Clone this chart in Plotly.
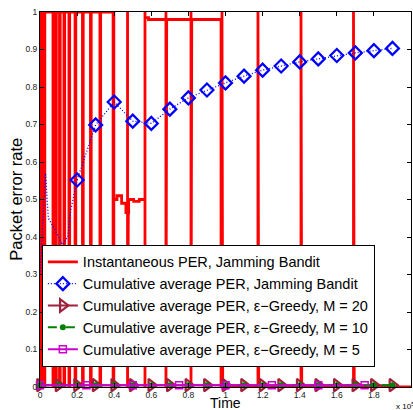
import plotly.graph_objects as go

# ---------------- data ----------------
# Instantaneous PER, Jamming Bandit: piecewise levels + full-height spikes
per_level_time = [0, 39400, 41500, 44000, 46300, 47800, 50500, 53500, 56600, 58500, 97600]
per_level_value = [1.0, 0.5, 0.51, 0.49, 0.465, 0.5, 0.495, 0.5, 0.985, 0.98, 0.0]
per_spike_time = [300, 1100, 2200, 7000, 8400, 10500, 12900, 15600, 18900, 22900,
                  27200, 32300, 39400, 47200, 56600, 67900, 81400, 98100, 117500,
                  140700, 169000]
per_end_time = 200000

# Cumulative average PER, Jamming Bandit
jb_early_time = [0, 3000, 4500, 8000, 12000, 15000, 16500, 20000]
jb_early_value = [0.30, 0.57, 0.45, 0.42, 0.38, 0.40, 0.47, 0.552]
jb_time = [20000, 30000, 40000, 50000, 60000, 70000, 80000, 90000, 100000,
           110000, 120000, 130000, 140000, 150000, 160000, 170000, 180000, 190000]
jb_value = [0.552, 0.699, 0.760, 0.709, 0.703, 0.741, 0.771, 0.792, 0.811,
            0.829, 0.845, 0.856, 0.867, 0.875, 0.884, 0.891, 0.897, 0.903]

# Cumulative average PER, eps-Greedy
g20_time = [0, 10000, 20000, 30000, 40000, 50000, 60000, 70000, 80000, 90000,
            100000, 110000, 120000, 130000, 140000, 150000, 160000, 170000, 180000, 190000]
g20_value = [0.005, 0.005, 0.005, 0.005, 0.005, 0.005, 0.005, 0.005, 0.005, 0.005,
             0.005, 0.005, 0.005, 0.005, 0.005, 0.005, 0.005, 0.005, 0.005, 0.005]
g10_time = [0, 10000, 20000, 30000, 40000, 50000, 60000, 70000, 80000, 90000,
            100000, 110000, 120000, 130000, 140000, 150000, 160000, 170000, 180000, 190000]
g10_value = [0.005, 0.005, 0.005, 0.005, 0.005, 0.005, 0.005, 0.005, 0.005, 0.005,
             0.005, 0.005, 0.005, 0.005, 0.005, 0.005, 0.005, 0.005, 0.005, 0.005]
g5_time = [0, 25000, 50000, 75000, 100000, 125000, 150000, 175000]
g5_value = [0.005, 0.005, 0.005, 0.005, 0.005, 0.005, 0.005, 0.005]

x_tick_vals = [0, 20000, 40000, 60000, 80000, 100000, 120000, 140000, 160000, 180000, 200000]
x_tick_text = ["0", "0.2", "0.4", "0.6", "0.8", "1", "1.2", "1.4", "1.6", "1.8", "2"]

# ---------------- build instantaneous PER polyline ----------------
def level_at(t):
    v = per_level_value[0]
    for lt, lv in zip(per_level_time, per_level_value):
        if lt <= t:
            v = lv
    return v

pulse = 400
events = [(t, "spike") for t in per_spike_time] + [(t, "level") for t in per_level_time[1:]]
events.sort(key=lambda e: (e[0], 0 if e[1] == "spike" else 1))
px, py = [0], [per_level_value[0]]
cur = per_level_value[0]
for t, kind in events:
    if kind == "spike":
        px += [t, t, t, t + pulse, t + pulse, t + pulse]
        py += [cur, 1.0, 0.0, 0.0, 1.0, cur]
    else:
        new = level_at(t)
        px += [t, t]
        py += [cur, new]
        cur = new
px.append(per_end_time)
py.append(cur)

red = "#ff0000"
blue = "#0000ff"
maroon = "#a0203c"
green = "#008000"
magenta = "#cc00cc"

fig = go.Figure()
fig.add_trace(go.Scatter(x=px, y=py, mode="lines", line=dict(color=red, width=2.8),
                         name="Instantaneous PER, Jamming Bandit"))
fig.add_trace(go.Scatter(x=jb_early_time, y=jb_early_value, mode="lines",
                         line=dict(color=blue, width=1.3, dash="1px,2px"), showlegend=False))
fig.add_trace(go.Scatter(x=jb_time, y=jb_value, mode="lines+markers",
                         line=dict(color=blue, width=1.3, dash="1px,2px"),
                         marker=dict(symbol="diamond-open", size=10, color=blue, line=dict(width=2.2)),
                         name="Cumulative average PER, Jamming Bandit"))
fig.add_trace(go.Scatter(x=g20_time, y=g20_value, mode="lines+markers",
                         line=dict(color=maroon, width=2),
                         marker=dict(symbol="triangle-right-open", size=11, color=maroon, line=dict(width=2.2)),
                         cliponaxis=False,
                         name="Cumulative average PER, \u03b5\u2212Greedy, M = 20"))
fig.add_trace(go.Scatter(x=g10_time, y=g10_value, mode="lines+markers",
                         line=dict(color=green, width=2, dash="dash"),
                         marker=dict(symbol="circle", size=6, color=green),
                         cliponaxis=False,
                         name="Cumulative average PER, \u03b5\u2212Greedy, M = 10"))
fig.add_trace(go.Scatter(x=g5_time, y=g5_value, mode="lines+markers",
                         line=dict(color=magenta, width=2),
                         marker=dict(symbol="square-open", size=7, color=magenta, line=dict(width=1.5)),
                         cliponaxis=False,
                         name="Cumulative average PER, \u03b5\u2212Greedy, M = 5"))

axis_common = dict(showgrid=False, zeroline=False, showline=True, linecolor="black", linewidth=1,
                   mirror="ticks", ticks="inside", ticklen=4, tickcolor="black",
                   tickfont=dict(size=8.5, color="#222", family="Liberation Sans"))
fig.update_xaxes(range=[0, 200000], tickvals=x_tick_vals, ticktext=x_tick_text, **axis_common)
fig.update_yaxes(range=[0, 1], tickvals=[0, 0.1, 0.2, 0.3, 0.4, 0.5, 0.6, 0.7, 0.8, 0.9, 1],
                 **axis_common)

# axis titles as annotations so they can sit exactly where the reference puts them
fig.add_annotation(text="Time", xref="paper", yref="paper", x=0.5, y=-0.042,
                   xanchor="center", yanchor="middle", showarrow=False,
                   font=dict(size=14, family="Liberation Sans", color="black"))
fig.add_annotation(text="Packet error rate", xref="paper", yref="paper", x=-0.067, y=0.5,
                   xanchor="center", yanchor="middle", showarrow=False, textangle=-90,
                   font=dict(size=16.5, family="Liberation Sans", color="black"))
fig.add_annotation(text="x 10<sup>5</sup>", xref="paper", yref="paper", x=0.985, y=-0.05,
                   xanchor="center", yanchor="middle", showarrow=False,
                   font=dict(size=8, family="Liberation Sans", color="black"))

fig.update_layout(
    width=413, height=410,
    margin=dict(l=40, r=2, t=12, b=23, autoexpand=False),
    plot_bgcolor="white", paper_bgcolor="white",
    font=dict(family="Liberation Sans"),
    legend=dict(x=0.005, y=0.379, xanchor="left", yanchor="top",
                bgcolor="white", bordercolor="black", borderwidth=1,
                font=dict(size=14.5, family="Liberation Sans", color="black"),
                tracegroupgap=0, itemwidth=30),
)

fig.write_html("out.html", config={"displayModeBar": False},
               post_script="document.body.style.margin='0';")
